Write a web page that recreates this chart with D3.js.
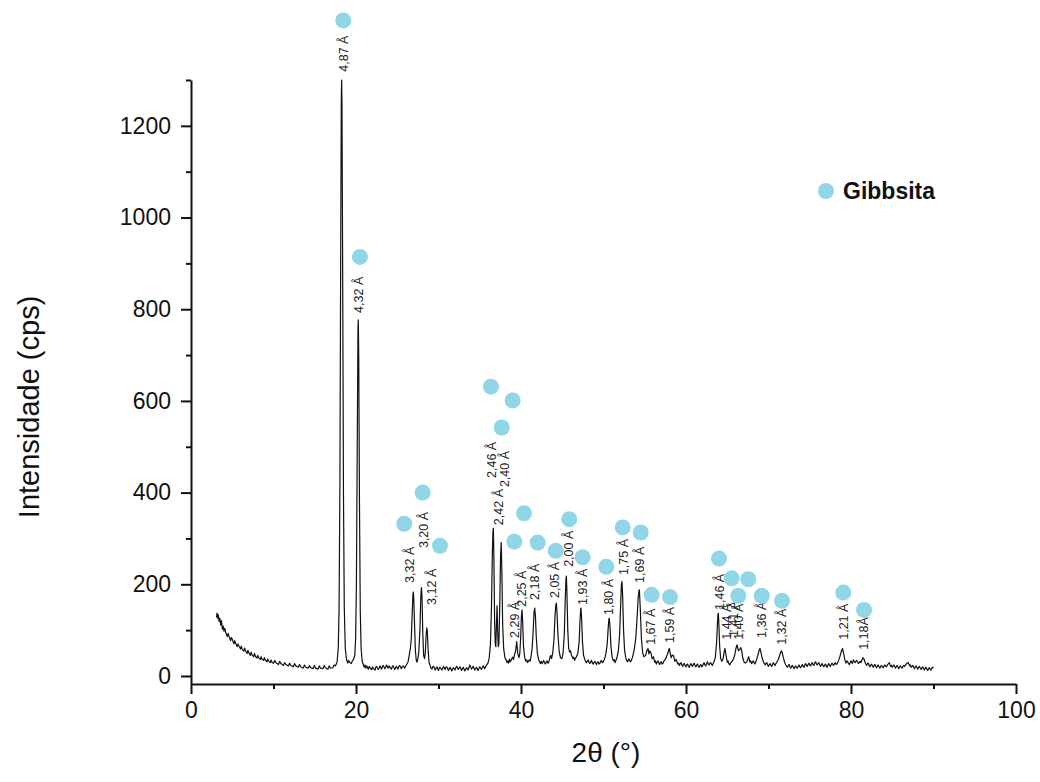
<!DOCTYPE html>
<html>
<head>
<meta charset="utf-8">
<script src="https://cdn.jsdelivr.net/npm/d3@7"></script>
<style>
  body { margin: 0; background: #fff; }
  svg { display: block; font-family: Arial, "Liberation Sans", sans-serif; }
</style>
</head>
<body>
<svg id="chart"></svg>
<script>
// XRD pattern, [2theta (deg), intensity (cps)]
const scan = [
  [3.1,128],[3.15,137],[3.2,126],[3.3,134],[3.4,119],[3.5,126],[3.6,111],[3.7,121],[3.8,102],[3.9,109],[4.0,98],[4.1,104],[4.2,95],[4.4,86],[4.5,93],[4.6,87],[4.8,77],[4.9,84],[5.0,80],
  [5.2,70],[5.3,77],[5.4,72],[5.6,64],[5.7,70],[5.8,66],[6.0,59],[6.1,65],[6.2,58],[6.4,54],[6.5,61],[6.6,55],[6.8,49],[6.9,56],[7.0,51],[7.2,45],[7.3,52],[7.4,46],[7.6,42],[7.7,49],[7.8,43],[8.0,39],
  [8.1,45],[8.2,40],[8.4,36],[8.5,42],[8.6,37],[8.8,34],[8.9,40],[9.0,35],[9.2,31],[9.3,37],[9.4,33],[9.6,29],[9.7,35],[9.8,30],[10.0,28],[10.15,34],[10.3,29],[10.6,25],[10.75,32],[10.9,27],[11.2,23],[11.35,29],[11.5,25],
  [11.8,22],[11.95,28],[12.1,23],[12.4,20],[12.55,27],[12.7,22],[13.0,19],[13.15,25],[13.3,20],[13.6,17],[13.75,24],[13.9,19],[14.2,17],[14.35,23],[14.5,18],[14.8,16],[14.95,23],[15.1,17],[15.4,15],[15.55,22],[15.7,17],
  [16.0,16],[16.15,23],[16.3,18],[16.6,15],[16.75,22],[16.9,17],[17.2,18],[17.35,24],[17.5,22],
  [17.7,30],[17.85,60],[17.95,150],[18.05,420],[18.15,950],[18.22,1260],[18.26,1300],[18.3,1250],[18.38,900],[18.48,400],[18.58,150],[18.7,60],[18.85,36],
  [19.0,28],[19.1,34],[19.2,30],[19.45,27],[19.55,33],[19.7,36],[19.85,45],
  [19.95,80],[20.05,200],[20.15,500],[20.24,760],[20.28,777],[20.33,700],[20.42,380],[20.52,140],[20.62,60],[20.75,32],[20.9,24],
  [21.0,19],[21.1,24],[21.2,17],[21.3,22],[21.5,15],[21.6,21],[21.7,18],[21.9,14],[22.0,20],[22.1,16],[22.3,13],[22.4,19],[22.5,21],[22.7,14],[22.8,17],[22.9,22],[23.1,15],[23.2,20],[23.3,23],[23.5,16],[23.6,19],[23.7,24],
  [23.9,17],[24.0,22],[24.1,19],[24.3,15],[24.4,21],[24.5,22],[24.7,14],[24.8,18],[24.9,21],[25.1,15],[25.2,21],[25.3,23],[25.5,16],[25.6,20],[25.7,22],[25.9,17],[26.0,21],[26.1,24],[26.3,30],
  [26.45,45],[26.6,62],[26.7,80],[26.8,130],[26.9,178],[26.95,183],[27.0,170],[27.1,110],[27.2,55],[27.3,35],[27.4,30],
  [27.5,38],[27.6,50],[27.75,100],[27.85,170],[27.93,193],[28.0,175],[28.1,90],[28.2,45],[28.3,38],
  [28.4,50],[28.5,90],[28.58,105],[28.65,95],[28.75,55],[28.85,30],[29.0,22],
  [29.1,17],[29.2,15],[29.3,20],[29.4,21],[29.6,13],[29.7,17],[29.8,20],[30.0,12],[30.1,18],[30.2,19],[30.4,13],[30.5,16],[30.6,21],[30.8,14],[30.9,19],[31.0,20],[31.2,12],[31.3,16],[31.4,19],[31.6,11],[31.7,15],[31.8,18],
  [32.0,13],[32.1,18],[32.2,21],[32.4,14],[32.5,17],[32.6,20],[32.8,12],[32.9,16],[33.0,19],[33.2,11],[33.3,15],[33.4,18],[33.6,13],[33.7,19],[33.8,24],[34.0,15],[34.1,18],[34.2,21],[34.4,13],[34.5,16],[34.6,19],
  [34.8,12],[34.9,17],[35.0,20],[35.2,14],[35.3,18],[35.4,22],[35.6,16],[35.7,20],[35.8,23],[36.0,28],
  [36.15,40],[36.3,70],[36.42,150],[36.52,260],[36.6,315],[36.65,322],[36.72,250],[36.8,120],[36.88,70],[36.95,64],[37.02,110],[37.1,153],
  [37.17,100],[37.25,64],[37.32,70],[37.42,150],[37.52,260],[37.6,291],[37.68,230],[37.78,110],[37.9,60],[38.05,40],[38.2,35],
  [38.3,29],[38.4,33],[38.5,28],[38.6,37],[38.7,31],[38.8,34],[38.9,38],[39.0,41],[39.1,36],[39.2,45],
  [39.35,55],[39.48,75],[39.6,50],[39.75,40],[39.85,48],[39.95,80],[40.05,130],[40.12,144],[40.2,120],[40.3,65],[40.45,40],[40.6,32],
  [40.7,35],[40.8,29],[40.9,33],[41.0,35],[41.1,32],[41.2,40],
  [41.35,60],[41.48,100],[41.58,138],[41.66,148],[41.75,130],[41.85,85],[41.98,50],[42.15,35],
  [42.25,31],[42.35,27],[42.45,32],[42.55,27],[42.65,30],[42.75,34],[42.85,29],[42.95,26],[43.05,30],[43.15,33],[43.25,28],[43.35,29],[43.5,40],[43.6,45],[43.7,38],[43.85,50],
  [44.0,80],[44.12,130],[44.22,155],[44.28,159],[44.36,140],[44.48,90],[44.62,55],[44.78,40],[44.95,38],[45.1,50],
  [45.25,90],[45.35,160],[45.45,212],[45.5,218],[45.57,180],[45.67,100],[45.78,60],[45.9,52],[46.0,55],[46.12,45],[46.3,38],[46.4,41],[46.5,34],[46.6,39],[46.7,41],[46.9,50],
  [47.05,75],[47.15,120],[47.23,145],[47.27,148],[47.35,125],[47.45,75],[47.58,45],[47.75,35],
  [47.85,31],[47.95,29],[48.05,33],[48.15,35],[48.25,29],[48.35,27],[48.45,31],[48.55,34],[48.65,28],[48.75,26],[48.85,30],[48.95,32],[49.05,28],[49.15,25],[49.25,30],[49.35,31],[49.45,26],[49.55,27],[49.65,32],[49.75,34],[49.85,29],[49.95,30],[50.15,38],[50.3,50],
  [50.45,70],[50.57,105],[50.65,124],[50.7,126],[50.78,110],[50.9,65],[51.05,40],[51.2,33],[51.3,36],[51.4,29],[51.5,34],[51.6,38],[51.8,55],
  [51.95,90],[52.07,150],[52.17,200],[52.24,206],[52.32,175],[52.43,100],[52.56,55],[52.7,40],[52.8,35],[52.9,31],[53.0,35],[53.1,37],[53.2,32],[53.3,31],[53.4,36],[53.5,40],[53.7,55],
  [53.9,80],[54.05,120],[54.2,170],[54.3,186],[54.35,188],[54.45,150],[54.6,80],[54.75,50],[54.9,42],
  [55.1,45],[55.25,55],[55.4,60],[55.5,48],[55.6,55],[55.75,50],[55.9,38],[56.05,42],[56.2,30],[56.3,33],[56.4,26],[56.5,30],[56.6,33],[56.7,29],[56.8,25],[56.9,29],[57.0,31],[57.1,26],[57.2,27],[57.3,32],[57.4,34],[57.6,40],
  [57.8,50],[57.92,58],[57.98,60],[58.08,50],[58.2,40],[58.35,46],[58.5,44],[58.65,32],[58.8,36],[59.0,26],
  [59.1,28],[59.2,23],[59.3,27],[59.4,29],[59.5,24],[59.6,21],[59.7,26],[59.8,27],[59.9,22],[60.0,20],[60.1,25],[60.2,26],[60.3,21],[60.4,19],[60.5,24],[60.6,27],[60.7,23],[60.8,21],[60.9,26],[61.0,28],[61.1,22],[61.2,20],[61.3,24],[61.4,26],[61.5,21],[61.6,19],[61.7,23],[61.8,25],
  [61.9,20],[62.0,21],[62.1,26],[62.2,29],[62.3,24],[62.4,22],[62.5,27],[62.6,31],[62.7,26],[62.8,24],[62.9,28],[63.0,29],[63.1,25],[63.2,23],[63.3,28],[63.4,31],[63.55,40],
  [63.7,70],[63.8,110],[63.88,135],[63.92,137],[63.98,115],[64.08,65],[64.2,38],[64.35,32],[64.5,38],
  [64.62,52],[64.73,60],[64.85,45],[65.0,30],[65.1,33],[65.15,28],[65.3,24],[65.4,29],[65.5,30],[65.7,35],[65.9,45],
  [66.05,60],[66.2,68],[66.35,55],[66.5,58],[66.65,62],[66.75,55],[66.9,38],[67.05,30],[67.2,28],
  [67.4,32],[67.6,42],[67.75,30],[67.85,33],[67.95,27],[68.05,30],[68.15,33],[68.25,29],[68.35,26],[68.55,35],[68.75,48],
  [68.9,58],[68.97,60],[69.1,50],[69.25,38],[69.4,30],[69.5,27],[69.6,24],[69.7,28],[69.8,29],[69.9,24],[70.0,21],[70.1,25],[70.2,27],[70.3,23],[70.4,21],[70.5,26],[70.6,29],[70.7,25],[70.8,23],[70.9,27],[71.0,30],[71.2,36],[71.4,48],
  [71.55,55],[71.65,52],[71.8,40],[71.95,30],[72.1,24],
  [72.2,21],[72.3,19],[72.4,23],[72.5,25],[72.6,20],[72.7,17],[72.8,21],[72.9,23],[73.0,19],[73.1,16],[73.2,20],[73.3,22],[73.4,18],[73.5,17],[73.6,21],[73.7,24],[73.8,20],[73.9,18],[74.0,22],[74.1,25],[74.2,21],[74.3,19],[74.4,24],[74.5,27],[74.6,23],[74.7,21],[74.8,25],[74.9,28],
  [75.0,24],[75.1,22],[75.2,26],[75.3,29],[75.4,25],[75.5,23],[75.6,28],[75.7,31],[75.8,27],[75.9,24],[76.0,27],[76.1,29],[76.2,25],[76.3,21],[76.4,24],[76.5,27],[76.6,23],[76.7,20],[76.8,23],[76.9,26],[77.0,22],[77.1,19],[77.2,24],[77.3,27],[77.4,23],[77.5,21],[77.6,25],[77.7,28],
  [77.8,25],[77.9,23],[78.0,27],[78.1,29],[78.2,25],[78.3,26],[78.4,30],[78.5,34],[78.7,45],
  [78.85,55],[78.97,60],[79.1,50],[79.25,35],[79.4,28],[79.5,33],[79.6,31],[79.7,27],[79.8,25],[79.9,29],[80.0,33],[80.15,27],[80.3,35],[80.4,31],[80.5,29],[80.6,32],[80.7,34],[80.8,30],[80.9,27],[81.0,30],[81.1,32],[81.2,29],[81.3,34],
  [81.45,40],[81.55,38],[81.7,30],[81.8,26],[81.9,23],[82.0,27],[82.1,28],[82.2,23],[82.3,20],[82.4,24],[82.5,26],[82.6,22],[82.7,19],[82.8,23],[82.9,25],[83.0,21],[83.1,18],[83.2,22],[83.3,24],[83.4,20],[83.5,17],[83.6,21],[83.7,23],[83.8,20],[83.9,18],
  [84.0,22],[84.1,24],[84.2,21],[84.3,20],[84.4,24],[84.5,26],[84.65,29],[84.8,21],[84.9,23],[85.0,19],[85.1,22],[85.2,24],[85.3,20],[85.4,17],[85.5,21],[85.6,23],[85.7,19],[85.8,16],[85.9,20],[86.0,22],[86.1,19],[86.2,17],[86.3,21],[86.4,23],[86.5,21],[86.6,24],
  [86.8,28],[86.95,29],[87.1,22],[87.2,24],[87.3,19],[87.4,21],[87.5,23],[87.6,19],[87.7,16],[87.8,20],[87.9,22],[88.0,18],[88.1,15],[88.2,19],[88.3,21],[88.4,17],[88.5,14],[88.6,18],[88.7,20],[88.8,16],[88.9,13],[89.0,17],[89.1,19],[89.2,15],[89.3,12],
  [89.4,16],[89.5,18],[89.6,15],[89.7,13],[89.8,17],[89.9,19],[90.0,17]
];

// d-spacing labels: text, 2theta and intensity where the text starts
const peakLabels = ["4,87 Å","4,32 Å","3,32 Å","3,20 Å","3,12 Å","2,46 Å","2,42 Å","2,40 Å","2,29 Å","2,25 Å","2,18 Å","2,05 Å","2,00 Å","1,93 Å",
  "1,80 Å","1,75 Å","1,69 Å","1,67 Å","1,59 Å","1,46 Å","1,44 Å","1,41 Å","1,40 Å","1,36 Å","1,32 Å","1,21 Å","1,18Å"];
const labelAngle = [18.55,20.36,26.46,28.16,29.18,36.45,37.25,38.06,39.27,40.08,41.7,44.12,45.73,47.43,
  50.58,52.4,54.42,55.72,57.98,64.04,64.93,65.73,66.34,69.18,71.64,79.07,81.49];
const labelLevel = [1318,792,203,279,155,432,329,412,83,151,166,170,238,155,
  133,220,203,68,72,144,79,85,79,83,68,79,57];

// Gibbsita markers
const markerAngle = [18.46,20.48,25.85,28.08,30.18,36.36,37.66,38.99,39.19,40.36,42.02,44.21,45.85,47.48,
  50.34,52.33,54.51,55.84,58.06,64.0,65.54,67.55,66.34,69.18,71.64,79.07,81.58];
const markerLevel = [1430,914,332,400,284,631,542,601,293,355,291,273,342,259,
  238,324,313,177,172,256,213,211,175,175,164,182,144];

const xMajor = [0,20,40,60,80,100];
const xMinor = [10,30,50,70,90];
const yMajor = [0,200,400,600,800,1000,1200];
const yMinor = [100,300,500,700,900,1100,1300];

const width = 1040, height = 782;
const margin = {top: 80, right: 24, bottom: 98, left: 191};
const markerColor = "#90d6e7";

const svg = d3.select("#chart").attr("width", width).attr("height", height);

const x = d3.scaleLinear().domain([0, 100]).range([margin.left, width - margin.right]);
const y = d3.scaleLinear().domain([-17.5, 1300]).range([height - margin.bottom, margin.top]);

// Axes
const gx = svg.append("g").attr("transform", `translate(0,${height - margin.bottom})`);
gx.call(d3.axisBottom(x).tickValues(xMajor).tickFormat(d3.format("d")).tickSize(10).tickSizeOuter(0).tickPadding(8));
gx.append("g").call(d3.axisBottom(x).tickValues(xMinor).tickSize(5).tickFormat(""))
  .select(".domain").remove();

const gy = svg.append("g").attr("transform", `translate(${margin.left},0)`);
gy.call(d3.axisLeft(y).tickValues(yMajor).tickFormat(d3.format("d")).tickSize(10).tickSizeOuter(0).tickPadding(10));
gy.append("g").call(d3.axisLeft(y).tickValues(yMinor).tickSize(5).tickFormat(""))
  .select(".domain").remove();

svg.selectAll(".domain, .tick line").attr("stroke", "#111").attr("stroke-width", 2);
svg.selectAll(".tick text").attr("fill", "#111").attr("font-size", 23);

// Axis titles
svg.append("text")
  .attr("x", x(50.3)).attr("y", 762)
  .attr("text-anchor", "middle").attr("font-size", 28).attr("fill", "#111")
  .text("2θ (°)");

svg.append("text")
  .attr("transform", `translate(39,${y(600) + 6}) rotate(-90)`)
  .attr("text-anchor", "middle").attr("font-size", 29).attr("fill", "#111")
  .text("Intensidade (cps)");

// Pattern
svg.append("path")
  .datum(scan)
  .attr("fill", "none")
  .attr("stroke", "#111")
  .attr("stroke-width", 1.2)
  .attr("stroke-linejoin", "round")
  .attr("d", d3.line().x(d => x(d[0])).y(d => y(d[1])));

// Peak labels
svg.append("g")
  .selectAll("text")
  .data(peakLabels)
  .join("text")
  .attr("transform", (d, i) => `translate(${x(labelAngle[i])},${y(labelLevel[i])}) rotate(-90)`)
  .attr("dy", "0.35em")
  .attr("font-size", 12.5)
  .attr("fill", "#222")
  .text(d => d);

// Markers
svg.append("g")
  .selectAll("circle")
  .data(markerAngle)
  .join("circle")
  .attr("cx", d => x(d))
  .attr("cy", (d, i) => y(markerLevel[i]))
  .attr("r", 8)
  .attr("fill", markerColor);

// Legend
const legend = svg.append("g").attr("transform", "translate(826,191)");
legend.append("circle").attr("r", 8).attr("fill", markerColor);
legend.append("text")
  .attr("x", 17).attr("y", 8)
  .attr("font-size", 23).attr("font-weight", "bold").attr("fill", "#111")
  .text("Gibbsita");
</script>
</body>
</html>
